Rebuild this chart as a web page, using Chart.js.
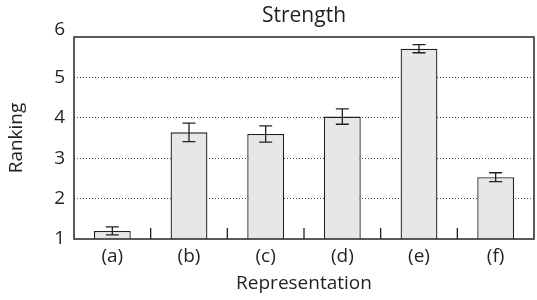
<!DOCTYPE html>
<html>
<head>
<meta charset="utf-8">
<script src="https://cdn.jsdelivr.net/npm/chart.js@4"></script>
<style>
html,body{margin:0;padding:0;background:#fff;}
#wrap{width:537px;height:300px;}
</style>
</head>
<body>
<div id="wrap"><canvas id="c" width="537" height="300"></canvas></div>
<script>
const categories = ['(a)', '(b)', '(c)', '(d)', '(e)', '(f)'];
const rankingMeans = [1.20, 3.64, 3.60, 4.03, 5.71, 2.53];
const rankingErrors = [0.10, 0.23, 0.20, 0.19, 0.10, 0.11];
const yTicks = [1, 2, 3, 4, 5, 6];
const chartTitle = 'Strength';

const FONT = "'Open Sans', 'Noto Sans', sans-serif";
const INK = '#231f20';

const decorPlugin = {
  id: 'decor',
  afterDatasetsDraw(chart) {
    const ctx = chart.ctx;
    const x = chart.scales.x, y = chart.scales.y;
    const a = chart.chartArea;
    ctx.save();
    // error bars
    ctx.strokeStyle = INK;
    ctx.lineWidth = 1.3;
    rankingMeans.forEach((m, i) => {
      const px = x.getPixelForValue(i);
      const yt = y.getPixelForValue(m + rankingErrors[i]);
      const yb = y.getPixelForValue(m - rankingErrors[i]);
      ctx.beginPath();
      ctx.moveTo(px, yt); ctx.lineTo(px, yb);
      ctx.moveTo(px - 6.5, yt); ctx.lineTo(px + 6.5, yt);
      ctx.moveTo(px - 6.5, yb); ctx.lineTo(px + 6.5, yb);
      ctx.stroke();
    });
    // inner category ticks
    for (let i = 0; i < categories.length - 1; i++) {
      const px = (x.getPixelForValue(i) + x.getPixelForValue(i + 1)) / 2;
      ctx.beginPath();
      ctx.moveTo(px, a.bottom); ctx.lineTo(px, a.bottom - 11);
      ctx.stroke();
    }
    // frame
    ctx.strokeStyle = '#333';
    ctx.lineWidth = 1.6;
    ctx.strokeRect(a.left, a.top, a.right - a.left, a.bottom - a.top);
    // title centred over the plot area
    ctx.fillStyle = INK;
    ctx.font = "21px " + FONT;
    ctx.textAlign = 'center';
    ctx.textBaseline = 'middle';
    ctx.fillText(chartTitle, (a.left + a.right) / 2, 16);
    ctx.restore();
  }
};

new Chart(document.getElementById('c'), {
  type: 'bar',
  data: {
    labels: categories,
    datasets: [{
      data: rankingMeans,
      backgroundColor: '#e6e7e8',
      borderColor: INK,
      borderWidth: 1.3,
      barPercentage: 0.48,
      categoryPercentage: 1.0
    }]
  },
  options: {
    responsive: false,
    animation: false,
    layout: { padding: { left: 0, right: 3, top: 37, bottom: 0 } },
    plugins: {
      legend: { display: false },
      tooltip: { enabled: false },
      title: { display: false }
    },
    scales: {
      x: {
        grid: { display: false, drawTicks: false },
        border: { display: false },
        ticks: { color: INK, padding: 6, font: { family: FONT, size: 19, lineHeight: 1.2 } },
        title: {
          display: true, text: 'Representation', color: INK,
          font: { family: FONT, size: 19, lineHeight: 1.2 },
          padding: { top: 0, bottom: 4.6 }
        },
        afterFit(s) { s.height = 61; }
      },
      y: {
        min: 1, max: 6,
        afterBuildTicks(s) { s.ticks = yTicks.map(v => ({ value: v })); },
        grid: {
          drawTicks: false,
          color: (c) => (c.tick && (c.tick.value === 1 || c.tick.value === 6)) ? 'rgba(0,0,0,0)' : '#444',
          lineWidth: 1
        },
        border: { display: false, dash: [1, 2] },
        ticks: {
          color: INK, padding: 9,
          font: { family: FONT, size: 19, lineHeight: 0.75 },
          callback: (v) => v === yTicks[yTicks.length - 1] ? [String(v), ''] : String(v)
        },
        title: {
          display: true, text: 'Ranking', color: INK,
          font: { family: FONT, size: 19, lineHeight: 1.2 },
          padding: { top: 5.6, bottom: 0 }
        },
        afterFit(s) { s.width = 74; }
      }
    }
  },
  plugins: [decorPlugin]
});
</script>
</body>
</html>
